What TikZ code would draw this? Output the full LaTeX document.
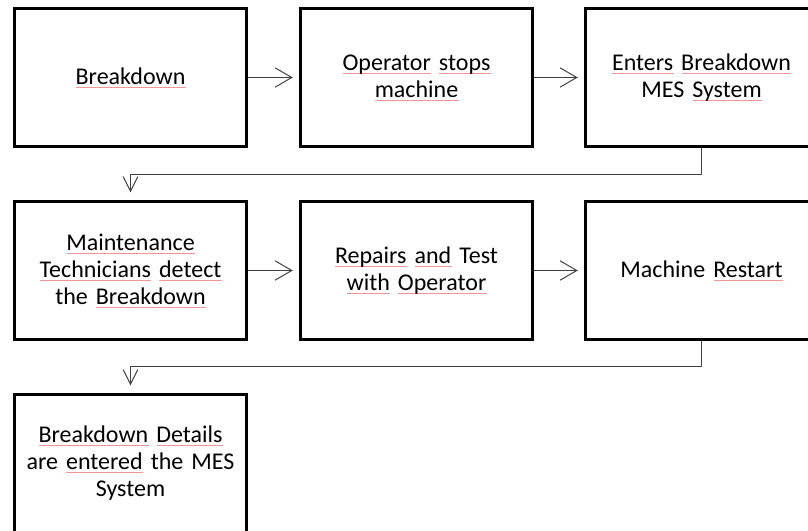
\documentclass[tikz,border=0pt]{standalone}
\usepackage{fontspec}
\setmainfont{Carlito}
\usetikzlibrary{arrows.meta}
\definecolor{spellred}{RGB}{240,150,150}
% spell-check style underline under a word (pink stroke, drawn under the word)
\newsavebox\splbox
\newcommand\spl[1]{\leavevmode\sbox\splbox{#1}%
  \rlap{\tikz[baseline=0pt]\draw[draw=spellred,line width=0.5pt] (0pt,-2pt) -- (\wd\splbox,-2pt);}%
  \usebox\splbox}
\tikzset{
  stepbox/.style={draw=black, line width=1.6pt, minimum width=174pt, minimum height=103.5pt,
    inner sep=0pt, text width=165pt, align=center,
    font=\fontsize{18}{20.3}\selectfont},
  harrow/.style={draw=black!75, line width=0.75pt,
    -{Straight Barb[length=12.5pt,width=14.5pt,line width=0.75pt]}, shorten >=5pt},
  varrow/.style={draw=black!75, line width=0.75pt,
    -{Straight Barb[length=11pt,width=11pt,line width=0.75pt]}, shorten >=6pt}
}
\begin{document}
\begin{tikzpicture}[x=0.75pt,y=-0.75pt]
\useasboundingbox (0,0) rectangle (808,531);
\clip (0,0) rectangle (808,531);
% first row
\node[stepbox] (b1) at (130.5,77.5) {\spl{Breakdown}};
\node[stepbox] (b2) at (416.5,77.5) {\spl{Operator} \spl{stops}\\\relax\spl{machine}};
\node[stepbox] (b3) at (701.5,77.5) {\spl{Enters} \spl{Breakdown}\\MES \spl{System}};
% second row
\node[stepbox] (b4) at (130.5,270.5) {\spl{Maintenance}\\\relax\spl{Technicians} \spl{detect}\\the \spl{Breakdown}};
\node[stepbox] (b5) at (416.5,270.5) {\spl{Repairs} \spl{and} Test\\\relax\spl{with} \spl{Operator}};
\node[stepbox] (b6) at (701.5,270.5) {Machine \spl{Restart}};
% third row
\node[stepbox] (b7) at (130.5,463.5) {\spl{Breakdown} \spl{Details}\\are \spl{entered} the MES\\System};
% connectors
\draw[harrow] (b1) -- (b2);
\draw[harrow] (b2) -- (b3);
\draw[varrow] (b3.south) -- ++(0,26.5) -| (b4.north);
\draw[harrow] (b4) -- (b5);
\draw[harrow] (b5) -- (b6);
\draw[varrow] (b6.south) -- ++(0,26) -| (b7.north);
\end{tikzpicture}
\end{document}
